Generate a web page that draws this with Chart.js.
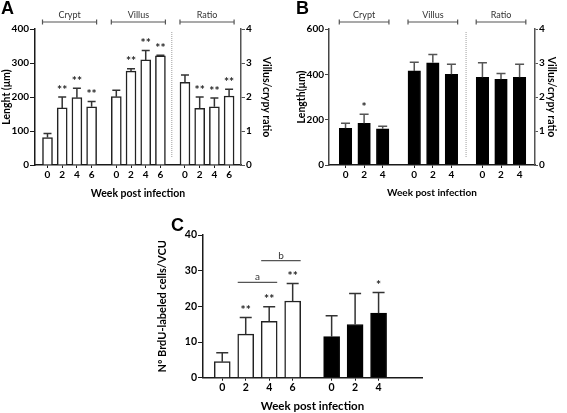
<!DOCTYPE html>
<html><head><meta charset="utf-8">
<script src="https://cdn.jsdelivr.net/npm/chart.js@4"></script>
<style>
html,body{margin:0;padding:0;background:#fff;}
#wrap{position:relative;width:567px;height:413px;overflow:hidden;background:#fff;}
canvas{position:absolute;}
.lbl{position:absolute;font-family:Arial,"Liberation Sans",sans-serif;font-weight:bold;font-size:18px;line-height:1;color:#000;}
</style></head><body>
<div id="wrap">
<canvas id="cA" width="280" height="200" style="left:0;top:0"></canvas>
<canvas id="cB" width="287" height="200" style="left:280px;top:0"></canvas>
<canvas id="cC" width="290" height="208" style="left:140px;top:205px"></canvas>
<div class="lbl" style="left:1px;top:-1px">A</div>
<div class="lbl" style="left:296px;top:-1px">B</div>
<div class="lbl" style="left:171px;top:216px">C</div>
</div>
<script>
// ---------------- data ----------------
const groupNames = ['Crypt', 'Villus', 'Ratio'];

const weeksA = ['0', '2', '4', '6'];
const cryptA = [81, 168, 198, 171];
const cryptAErr = [12, 32, 28, 16];
const cryptASig = ['', '**', '**', '**'];
const villusA = [201, 276, 309, 321];
const villusAErr = [19, 7, 28, 2];
const villusASig = ['', '**', '**', '**'];
const ratioA = [2.43, 1.67, 1.71, 2.03];
const ratioAErr = [0.22, 0.33, 0.26, 0.20];
const ratioASig = ['', '**', '**', '**'];

const weeksB = ['0', '2', '4'];
const cryptB = [162, 184, 160];
const cryptBErr = [22, 40, 11];
const cryptBSig = ['', '*', ''];
const villusB = [415, 451, 400];
const villusBErr = [38, 37, 44];
const villusBSig = ['', '', ''];
const ratioB = [2.58, 2.52, 2.58];
const ratioBErr = [0.43, 0.17, 0.38];
const ratioBSig = ['', '', ''];

const weeksCWhite = ['0', '2', '4', '6'];
const brduWhite = [4.5, 12.2, 15.8, 21.5];
const brduWhiteErr = [2.5, 4.7, 4.1, 4.9];
const brduWhiteSig = ['', '**', '**', '**'];
const weeksCBlack = ['0', '2', '4'];
const brduBlack = [11.5, 14.9, 18.1];
const brduBlackErr = [5.9, 8.7, 5.8];
const brduBlackSig = ['', '', '*'];
const sigLinesC = [{ text: 'a', from: 1, to: 2, y: 26.7 }, { text: 'b', from: 2, to: 3, y: 32.8 }];

const lengthTicksA = [0, 400, 100];
const lengthTicksB = [0, 600, 200];
const ratioTicks = [0, 4, 1];
const brduTicks = [0, 40, 10];

// ---------------- styling / layout ----------------
const FONT = 'Lato, "Open Sans", "Liberation Sans", sans-serif';
Chart.defaults.font.family = FONT;
const AXIS = '#1a1a1a';
const AXIS2 = '#555';

function place(starts, groups) {
  const xs = [];
  groups.forEach((g, gi) => g.forEach((_, i) => xs.push(starts[gi] + i)));
  return xs;
}

function barDs(vals, errs, sig, xs, yAxisID, fill, border, bw, borderWidth) {
  return {
    data: vals.map((v, i) => ({ x: xs[i], y: v })),
    errs: errs, sig: sig, yAxisID: yAxisID, stack: 'g',
    backgroundColor: fill, borderColor: border, borderWidth: borderWidth,
    borderSkipped: 'start', barThickness: bw
  };
}

function makeDeco(cfg) {
  return {
    id: 'deco',
    afterDatasetsDraw(chart) {
      const ctx = chart.ctx;
      chart.data.datasets.forEach((d, di) => {
        const meta = chart.getDatasetMeta(di);
        const ys = chart.scales[meta.yAxisID];
        meta.data.forEach((bar, i) => {
          const top = ys.getPixelForValue(d.data[i].y + d.errs[i]);
          ctx.save();
          ctx.strokeStyle = cfg.errColor; ctx.lineWidth = cfg.errWidth;
          ctx.beginPath();
          ctx.moveTo(bar.x, bar.y); ctx.lineTo(bar.x, top);
          ctx.moveTo(bar.x - cfg.cap / 2, top); ctx.lineTo(bar.x + cfg.cap / 2, top);
          ctx.stroke();
          if (d.sig[i]) {
            ctx.fillStyle = '#222'; ctx.font = cfg.starFont;
            ctx.textAlign = 'center'; ctx.textBaseline = 'alphabetic';
            ctx.fillText(d.sig[i], bar.x, top - cfg.starGap);
          }
          ctx.restore();
        });
      });
    },
    afterDraw(chart) {
      const ctx = chart.ctx, xs = chart.scales.x, area = chart.chartArea;
      ctx.save();
      if (cfg.brackets) {
        chart.data.datasets.forEach((d, di) => {
          const meta = chart.getDatasetMeta(di);
          const first = meta.data[0], last = meta.data[meta.data.length - 1];
          const x0 = first.x - cfg.bw / 2, x1 = last.x + cfg.bw / 2, y = cfg.bracketY;
          ctx.strokeStyle = '#555'; ctx.lineWidth = 1.2;
          ctx.beginPath();
          ctx.moveTo(x0, y); ctx.lineTo(x1, y);
          ctx.moveTo(x0, y - 2.5); ctx.lineTo(x0, y + 2.5);
          ctx.moveTo(x1, y - 2.5); ctx.lineTo(x1, y + 2.5);
          ctx.stroke();
          ctx.fillStyle = '#333'; ctx.font = '9px ' + FONT;
          ctx.textAlign = 'center'; ctx.textBaseline = 'middle';
          ctx.fillText(groupNames[di], (x0 + x1) / 2, y - 7);
        });
      }
      if (cfg.sep !== undefined) {
        const x = xs.getPixelForValue(cfg.sep);
        ctx.strokeStyle = '#b5b5b5'; ctx.lineWidth = 1.3; ctx.setLineDash([1, 1]);
        ctx.beginPath(); ctx.moveTo(x, area.top + 3); ctx.lineTo(x, area.bottom - 8); ctx.stroke();
        ctx.setLineDash([]);
      }
      if (cfg.sigLines) {
        const meta = chart.getDatasetMeta(0);
        const ys = chart.scales.y;
        cfg.sigLines.forEach(s => {
          const x0 = meta.data[s.from].x - cfg.bw / 2, x1 = meta.data[s.to].x + cfg.bw / 2;
          const y = ys.getPixelForValue(s.y);
          ctx.strokeStyle = '#555'; ctx.lineWidth = 1.2;
          ctx.beginPath(); ctx.moveTo(x0, y); ctx.lineTo(x1, y); ctx.stroke();
          ctx.fillStyle = '#333'; ctx.font = '10px ' + FONT;
          ctx.textAlign = 'center'; ctx.textBaseline = 'alphabetic';
          ctx.fillText(s.text, (x0 + x1) / 2, y - 2);
        });
      }
      ctx.restore();
    }
  };
}

function yScale(pos, ticks, title, cfg) {
  return {
    type: 'linear', position: pos, min: ticks[0], max: ticks[1], stacked: false,
    grid: { drawOnChartArea: false, drawTicks: true, tickLength: cfg.tl, color: cfg.color, lineWidth: 1 },
    border: { display: true, color: cfg.color, width: 1.5 },
    ticks: { stepSize: ticks[2], padding: cfg.tp, color: '#000', font: { size: cfg.tickSize, weight: 'bold' } },
    title: { display: true, text: title, color: '#000', font: { size: cfg.titleSize, weight: 'bold' }, padding: { top: cfg.titlePad, bottom: 0 } },
    afterFit: s => { s.width = cfg.w; }
  };
}

function xScale(xs, labels, cfg) {
  return {
    type: 'linear', min: cfg.min, max: cfg.max, offset: false,
    grid: { drawOnChartArea: false, drawTicks: true, tickLength: 3, color: AXIS, lineWidth: 1, offset: false },
    border: { display: true, color: AXIS, width: 1.5 },
    afterBuildTicks: s => { s.ticks = xs.map(v => ({ value: v })); },
    ticks: { autoSkip: false, maxRotation: 0, minRotation: 0, padding: cfg.tp, color: '#000',
      font: { size: cfg.tickSize, weight: 'bold' }, callback: (v, i) => labels[i] },
    title: { display: true, text: 'Week post infection', color: '#000', font: { size: cfg.titleSize, weight: 'bold' }, padding: { top: 0, bottom: cfg.titlePad } },
    afterFit: s => { s.height = cfg.h; }
  };
}

function baseOptions(padding, scales) {
  return {
    responsive: false, animation: false, devicePixelRatio: 1,
    layout: { padding: padding, autoPadding: false },
    plugins: { legend: { display: false }, tooltip: { enabled: false } },
    scales: scales
  };
}

// ---------------- Panel A ----------------
(function () {
  const bw = 10;
  const xs = place([0, 4.68, 9.35], [weeksA, weeksA, weeksA]);
  const labels = [...weeksA, ...weeksA, ...weeksA];
  new Chart(document.getElementById('cA'), {
    type: 'bar',
    data: { datasets: [
      barDs(cryptA, cryptAErr, cryptASig, xs.slice(0, 4), 'y', '#fff', '#222', bw, 1.5),
      barDs(villusA, villusAErr, villusASig, xs.slice(4, 8), 'y', '#fff', '#222', bw, 1.5),
      barDs(ratioA, ratioAErr, ratioASig, xs.slice(8, 12), 'y2', '#fff', '#222', bw, 1.5)
    ] },
    options: baseOptions({ top: 29, left: 0, right: 0, bottom: 0 }, {
      x: xScale(xs, labels, { min: -0.85, max: 13.16, tp: 1, tickSize: 10, titleSize: 10.5, titlePad: 0.5, h: 35 }),
      y: yScale('left', lengthTicksA, 'Lenght (\u03bcm)', { tl: 5, tp: 1, color: AXIS, tickSize: 10, titleSize: 10.5, titlePad: 0, w: 35 }),
      y2: yScale('right', ratioTicks, 'Villus/crypy ratio', { tl: 4, tp: 1, color: AXIS2, tickSize: 10, titleSize: 10.5, titlePad: 7.7, w: 39 })
    }),
    plugins: [makeDeco({ bw: bw, cap: 8, errColor: '#333', errWidth: 1.5, starFont: 'bold 12px ' + FONT, starGap: 3.5, brackets: true, bracketY: 22, sep: 8.45 })]
  });
})();

// ---------------- Panel B ----------------
(function () {
  const bw = 12.5;
  const xs = place([0, 3.7, 7.37], [weeksB, weeksB, weeksB]);
  const labels = [...weeksB, ...weeksB, ...weeksB];
  new Chart(document.getElementById('cB'), {
    type: 'bar',
    data: { datasets: [
      barDs(cryptB, cryptBErr, cryptBSig, xs.slice(0, 3), 'y', '#000', '#000', bw, 1),
      barDs(villusB, villusBErr, villusBSig, xs.slice(3, 6), 'y', '#000', '#000', bw, 1),
      barDs(ratioB, ratioBErr, ratioBSig, xs.slice(6, 9), 'y2', '#000', '#000', bw, 1)
    ] },
    options: baseOptions({ top: 29, left: 0, right: 0, bottom: 0 }, {
      x: xScale(xs, labels, { min: -0.89, max: 10.2, tp: 1, tickSize: 10, titleSize: 10, titlePad: 1, h: 35 }),
      y: yScale('left', lengthTicksB, 'Length(\u03bcm)', { tl: 4, tp: 1, color: '#444', tickSize: 10, titleSize: 10.5, titlePad: 15, w: 49 }),
      y2: yScale('right', ratioTicks, 'Villus/crypy ratio', { tl: 3, tp: 1, color: AXIS2, tickSize: 10, titleSize: 10.5, titlePad: 9, w: 32 })
    }),
    plugins: [makeDeco({ bw: bw, cap: 9, errColor: '#555', errWidth: 1.5, starFont: 'bold 12px ' + FONT, starGap: 3.5, brackets: true, bracketY: 22, sep: 6.49 })]
  });
})();

// ---------------- Panel C ----------------
(function () {
  const bw = 16;
  const xs = place([0, 4.66], [weeksCWhite, weeksCBlack]);
  const labels = [...weeksCWhite, ...weeksCBlack];
  new Chart(document.getElementById('cC'), {
    type: 'bar',
    data: { datasets: [
      barDs(brduWhite, brduWhiteErr, brduWhiteSig, xs.slice(0, 4), 'y', '#fff', '#222', bw, 1.5),
      barDs(brduBlack, brduBlackErr, brduBlackSig, xs.slice(4, 7), 'y', '#000', '#000', bw, 1)
    ] },
    options: baseOptions({ top: 30, left: 0, right: 8, bottom: 0 }, {
      x: xScale(xs, labels, { min: -0.82, max: 8.51, tp: 1, tickSize: 10.5, titleSize: 11.5, titlePad: 0.1, h: 35.3 }),
      y: yScale('left', brduTicks, 'N\u00ba BrdU-labeled cells/VCU', { tl: 5, tp: 1, color: AXIS, tickSize: 10.5, titleSize: 11, titlePad: 15.4, w: 63 })
    }),
    plugins: [makeDeco({ bw: bw, cap: 12, errColor: '#333', errWidth: 1.5, starFont: 'bold 12px ' + FONT, starGap: 3.5, sigLines: sigLinesC })]
  });
})();
</script>
</body></html>
